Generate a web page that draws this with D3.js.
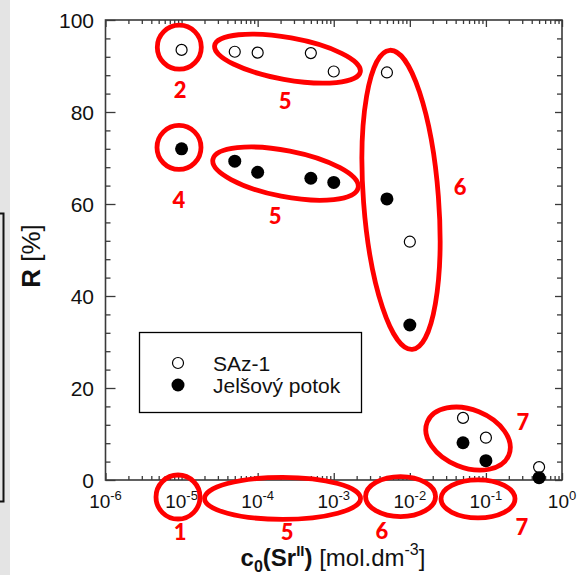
<!DOCTYPE html>
<html><head><meta charset="utf-8">
<script src="https://cdn.jsdelivr.net/npm/d3@7"></script>
<style>body{margin:0;background:#fff} svg{display:block}</style>
</head><body><svg id="c" width="578" height="575"></svg>
<script>
// ---- data ----
const concentrations = [1e-5, 5e-5, 1e-4, 5e-4, 1e-3, 5e-3, 1e-2, 5e-2, 1e-1, 5e-1];
const rSAz1 = [93.5, 93.1, 92.9, 92.8, 88.8, 88.6, 51.8, 13.5, 9.2, 2.8];
const rJelsovy = [72.0, 69.3, 66.9, 65.6, 64.7, 61.1, 33.7, 8.1, 4.2, 0.5];
const seriesNames = ["SAz-1", "Jelšový potok"];
const xTickExponents = [-6, -5, -4, -3, -2, -1, 0];
const yTickValues = [0, 20, 40, 60, 80, 100];
// annotation groups (centre in log10 c and R)
const annLogC = [-5.03, -3.608, -5.034, -3.634, -2.116, -1.235, -5.047, -3.673, -2.122, -1.104];
const annR    = [94.1, 91.6, 72.3, 66.6, 60.9, 9.0, -3.7, -4.0, -3.6, -4.1];
const annRx   = [22, 74, 22, 74, 37.5, 44, 22, 78, 35, 37];
const annRy   = [22, 21, 22, 23, 150, 29, 22, 21, 20, 19];
const annRot  = [0, 10.2, 0, 11, -4.3, 22, 0, 0, 0, 0];
const labelText = ["2", "5", "4", "5", "6", "7", "1", "5", "6", "7"];
const labelLogC = [-5.02, -3.64, -5.034, -3.772, -1.34, -0.513, -5.02, -3.614, -2.366, -0.526];
const labelR    = [85.0, 82.6, 60.9, 57.6, 63.7, 12.8, -11.3, -11.3, -10.9, -10.2];

const svg = d3.select("#c");
const W = 578, H = 575;
const x = d3.scaleLog().domain([1e-6, 1]).range([105.5, 562]);
const y = d3.scaleLinear().domain([0, 100]).range([480, 20]);
const axisCol = "#3a3a3a";
const red = "#ff0000";

// left strip decoration (cropped page edge)
svg.append("rect").attr("x", 0).attr("y", 0).attr("width", 10).attr("height", H).attr("fill", "#e4e4e4");
svg.append("path").attr("d", "M0,213.5 H3.5 V501.5 H0").attr("fill", "none").attr("stroke", "#111").attr("stroke-width", 2);

// minor ticks
const xMinor = [];
for (let d = -6; d < 0; d++) for (let k = 2; k <= 9; k++) xMinor.push(k * Math.pow(10, d));
const xMajor = xTickExponents.map(e => Math.pow(10, e));
const yMinor = d3.range(0, 101, 4).filter(v => v % 20 !== 0);

function addAxis(gen, vals, size, tr) {
  const g = svg.append("g").attr("transform", tr)
    .call(gen.tickValues(vals).tickSize(size).tickFormat(""));
  g.select(".domain").remove();
  g.selectAll("line").attr("stroke", axisCol).attr("stroke-width", 1.3);
}
addAxis(d3.axisBottom(x), xMajor, -7, `translate(0,${y(0)})`);
addAxis(d3.axisBottom(x), xMinor, -4, `translate(0,${y(0)})`);
addAxis(d3.axisTop(x), xMajor, -7, `translate(0,${y(100)})`);
addAxis(d3.axisTop(x), xMinor, -4, `translate(0,${y(100)})`);
addAxis(d3.axisLeft(y), yTickValues, -10, `translate(${x(1e-6)},0)`);
addAxis(d3.axisLeft(y), yMinor, -5, `translate(${x(1e-6)},0)`);
addAxis(d3.axisRight(y), yTickValues, -7, `translate(${x(1)},0)`);
addAxis(d3.axisRight(y), yMinor, -5, `translate(${x(1)},0)`);

svg.append("rect").attr("x", x(1e-6)).attr("y", y(100))
  .attr("width", x(1) - x(1e-6)).attr("height", y(0) - y(100))
  .attr("fill", "none").attr("stroke", axisCol).attr("stroke-width", 1.6);

// tick labels
const font = "'Liberation Sans', Arial, sans-serif";
svg.append("g").selectAll("text").data(yTickValues).join("text")
  .attr("x", 94).attr("y", d => y(d)).attr("text-anchor", "end")
  .attr("dominant-baseline", "central").attr("font-family", font)
  .attr("font-size", 21).attr("fill", "#111").text(d => d);

const xl = svg.append("g").selectAll("text").data(xTickExponents).join("text")
  .attr("x", d => x(Math.pow(10, d))).attr("y", 508).attr("text-anchor", "middle")
  .attr("font-family", font).attr("font-size", 19).attr("fill", "#111");
xl.append("tspan").text("10");
xl.append("tspan").attr("dy", -8).attr("font-size", 13).text(d => d === 0 ? "0" : "-" + Math.abs(d));

// annotation ellipses
const ann = annLogC.map((lc, i) => ({lc, r: annR[i], rx: annRx[i], ry: annRy[i], rot: annRot[i]}));
svg.append("g").selectAll("ellipse").data(ann).join("ellipse")
  .attr("transform", d => `translate(${x(Math.pow(10, d.lc))},${y(d.r)}) rotate(${d.rot})`)
  .attr("rx", d => d.rx).attr("ry", d => d.ry)
  .attr("fill", "none").attr("stroke", red).attr("stroke-width", 4.8);

svg.append("g").selectAll("text").data(labelText).join("text")
  .attr("x", (d, i) => x(Math.pow(10, labelLogC[i]))).attr("y", (d, i) => y(labelR[i]))
  .attr("text-anchor", "middle").attr("dominant-baseline", "central")
  .attr("font-family", "Lato, 'Open Sans', sans-serif").attr("font-weight", "900")
  .attr("font-size", 22).attr("fill", red).text(d => d);

// axis titles
const xt = svg.append("text").attr("x", 333).attr("y", 566).attr("text-anchor", "middle")
  .attr("font-family", font).attr("font-size", 24).attr("fill", "#111");
xt.append("tspan").attr("font-weight", "bold").text("c");
xt.append("tspan").attr("font-weight", "bold").attr("font-size", 16).attr("dy", 6).text("0");
xt.append("tspan").attr("font-weight", "bold").attr("dy", -6).text("(Sr");
xt.append("tspan").attr("font-weight", "bold").attr("font-size", 15).attr("dy", -10).text("II");
xt.append("tspan").attr("font-weight", "bold").attr("dy", 10).text(")");
xt.append("tspan").text(" [mol.dm");
xt.append("tspan").attr("font-size", 16).attr("dy", -11).text("-3");
xt.append("tspan").attr("dy", 11).text("]");

const yt = svg.append("text").attr("transform", "translate(40,256) rotate(-90)")
  .attr("text-anchor", "middle").attr("font-family", font).attr("font-size", 26).attr("fill", "#111");
yt.append("tspan").attr("font-weight", "bold").text("R");
yt.append("tspan").text(" [%]");

// data points
svg.append("g").selectAll("circle").data(concentrations).join("circle")
  .attr("cx", d => x(d)).attr("cy", (d, i) => y(rSAz1[i])).attr("r", 5.5)
  .attr("fill", "#fff").attr("stroke", "#000").attr("stroke-width", 1.2);
svg.append("g").selectAll("circle").data(concentrations).join("circle")
  .attr("cx", d => x(d)).attr("cy", (d, i) => y(rJelsovy[i])).attr("r", 6.5)
  .attr("fill", "#000");

// legend
const lg = svg.append("g");
lg.append("rect").attr("x", 139.5).attr("y", 332.5).attr("width", 222).attr("height", 80)
  .attr("fill", "#fff").attr("stroke", "#000").attr("stroke-width", 1.3);
const ly = [363, 385];
lg.append("circle").attr("cx", 178).attr("cy", ly[0]).attr("r", 5.5)
  .attr("fill", "#fff").attr("stroke", "#000").attr("stroke-width", 1.2);
lg.append("circle").attr("cx", 178).attr("cy", ly[1]).attr("r", 6.5).attr("fill", "#000");
lg.selectAll("text").data(seriesNames).join("text")
  .attr("x", 213).attr("y", (d, i) => ly[i]).attr("dominant-baseline", "central")
  .attr("font-family", font).attr("font-size", 21).attr("fill", "#111").text(d => d);
</script></body></html>
